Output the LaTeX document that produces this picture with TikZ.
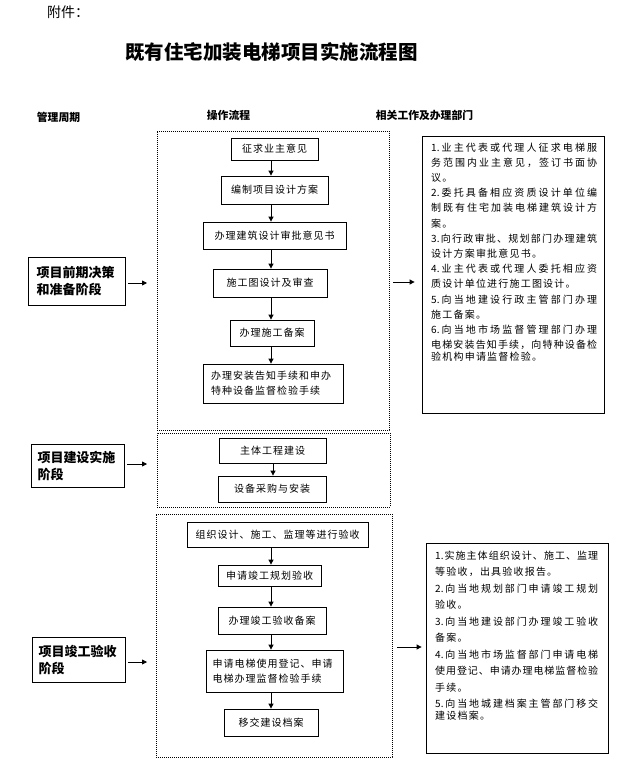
\documentclass[tikz,border=0pt]{standalone}
\usepackage{fontspec}
\usetikzlibrary{arrows.meta}
\setmainfont{Noto Sans CJK SC}
\newfontfamily\cjk{Noto Sans CJK SC}
\newfontfamily\cjkls[LetterSpace=10]{Noto Sans CJK SC}
\newfontfamily\cjkrl[LetterSpace=12]{Noto Sans CJK SC}
\newdimen\jw
\makeatletter
\def\jline#1{\leavevmode\hbox to \jw{\jl@a#1\@nil}}
\def\jl@a#1{#1\jl@b}
\def\jl@b#1{\ifx\@nil#1\else\hfil#1\expandafter\jl@b\fi}
\makeatother
\tikzset{
  frame/.style={draw, line width=0.8pt, dash pattern=on 0.8pt off 1.2pt, inner sep=0pt},
  pbox/.style={draw, line width=0.8pt, inner sep=2pt, font=\fontsize{10}{15}\selectfont\cjkls},
  lbox/.style={draw, line width=0.8pt, inner sep=2pt, text width=80pt, align=left, font=\fontsize{13}{17}\selectfont\cjk\bfseries},
  rbox/.style={draw, line width=0.8pt, inner sep=0pt},
  rtext/.style={inner sep=0pt, text width=172pt, align=left, anchor=base west},
  hdr/.style={font=\fontsize{10.8}{13}\selectfont\cjk\bfseries, inner sep=0pt},
  arr/.style={line width=0.8pt, -{Triangle[length=5pt,width=5pt]}}
}
\begin{document}
\begin{tikzpicture}[x=1pt,y=-1pt]
\useasboundingbox (0,0) rectangle (628,779);
% header texts
\node[anchor=west, inner sep=0pt, font=\fontsize{14}{16}\selectfont\cjk] (att) at (47,12) {附件：};
\node[inner sep=0pt, font=\fontsize{19.5}{22}\selectfont\cjk\bfseries] (title) at (271.5,52) {既有住宅加装电梯项目实施流程图};
\node[hdr] (h1) at (58.5,117) {管理周期};
\node[hdr] (h2) at (228.5,115) {操作流程};
\node[hdr] (h3) at (424.5,115) {相关工作及办理部门};

% dotted frames
\node[frame, minimum width=232pt, minimum height=299pt] (F1) at (273,280.5) {};
\node[frame, minimum width=233pt, minimum height=74pt] (F2) at (273.5,470) {};
\node[frame, minimum width=236pt, minimum height=243pt] (F3) at (274,635.5) {};

% left stage boxes
\node[lbox, minimum width=97pt, minimum height=48pt] (L1) at (76.5,281) {项目前期决策\\和准备阶段};
\node[lbox, minimum width=93pt, minimum height=43pt] (L2) at (77.5,465.5) {项目建设实施\\阶段};
\node[lbox, minimum width=93pt, minimum height=45pt] (L3) at (78.5,659.5) {项目竣工验收\\阶段};

% stage 1 steps
\node[pbox, minimum width=87pt, minimum height=22pt] (b1) at (274.5,149) {征求业主意见};
\node[pbox, minimum width=107pt, minimum height=28pt] (b2) at (274.5,190) {编制项目设计方案};
\node[pbox, minimum width=143pt, minimum height=27pt] (b3) at (274.5,235.5) {办理建筑设计审批意见书};
\node[pbox, minimum width=114pt, minimum height=28pt] (b4) at (270,283) {施工图设计及审查};
\node[pbox, minimum width=84pt, minimum height=26pt] (b5) at (272,333) {办理施工备案};
\node[pbox, minimum width=140pt, minimum height=39pt, text width=124pt, align=left] (b6) at (273,383.5) {办理安装告知手续和申办\\特种设备监督检验手续};

% stage 2 steps
\node[pbox, minimum width=107pt, minimum height=25pt] (c1) at (272.5,450.5) {主体工程建设};
\node[pbox, minimum width=108pt, minimum height=26pt] (c2) at (272,489) {设备采购与安装};

% stage 3 steps
\node[pbox, minimum width=181pt, minimum height=25pt] (d1) at (277.5,534.5) {组织设计、施工、监理等进行验收};
\node[pbox, minimum width=103pt, minimum height=21pt] (d2) at (269.5,575.5) {申请竣工规划验收};
\node[pbox, minimum width=108pt, minimum height=27pt] (d3) at (272,620.5) {办理竣工验收备案};
\node[pbox, minimum width=137pt, minimum height=42pt, text width=124pt, align=left] (d4) at (274.5,671) {申请电梯使用登记、申请\\电梯办理监督检验手续};
\node[pbox, minimum width=94pt, minimum height=27pt] (d5) at (271,722.5) {移交建设档案};

% right boxes
\node[rbox, minimum width=182pt, minimum height=277pt] (R1) at (513,274.5) {};
\node[rbox, minimum width=182pt, minimum height=210pt] (R2) at (517,648) {};

\node[rtext] (R1t) at (431,151) {\fontsize{10}{15.2}\selectfont\cjk\jw=166pt
\jline{{1.}业主代表或代理人征求电梯服}\\
\jline{务范围内业主意见，签订书面协}\\
{\cjkrl 议。}\\
\jline{{2.}委托具备相应资质设计单位编}\\
\jline{制既有住宅加装电梯建筑设计方}\\
{\cjkrl 案。}\\
\jline{{3.}向行政审批、规划部门办理建筑}\\
{\cjkrl 设计方案审批意见书。}\\
\jline{{4.}业主代表或代理人委托相应资}\\
{\cjkrl 质设计单位进行施工图设计。}\\
\jline{{5.}向当地建设行政主管部门办理}\\
{\cjkrl 施工备案。}\\
\jline{{6.}向当地市场监督管理部门办理}\\
\jline{电梯安装告知手续，向特种设备检}\\
{\cjkrl 验机构申请监督检验。}};

\node[rtext] (R2t) at (435,559) {\fontsize{10}{16.5}\selectfont\cjk\jw=163pt
\jline{{1.}实施主体组织设计、施工、监理}\\
{\cjkrl 等验收，出具验收报告。}\\
\jline{{2.}向当地规划部门申请竣工规划}\\
{\cjkrl 验收。}\\
\jline{{3.}向当地建设部门办理竣工验收}\\
{\cjkrl 备案。}\\
\jline{{4.}向当地市场监督部门申请电梯}\\
\jline{使用登记、申请办理电梯监督检验}\\
{\cjkrl 手续。}\\
\jline{{5.}向当地城建档案主管部门移交}\\
{\cjkrl 建设档案。}};

% vertical arrows
\coordinate (ax) at (271,0);
\coordinate (bx) at (273,0);
\draw[arr] (b1.south -| ax) -- (b2.north -| ax);
\draw[arr] (b2.south -| ax) -- (b3.north -| ax);
\draw[arr] (b3.south -| ax) -- (b4.north -| ax);
\draw[arr] (b4.south -| ax) -- (b5.north -| ax);
\draw[arr] (b5.south -| ax) -- (b6.north -| ax);
\draw[arr] (c1.south -| bx) -- (c2.north -| bx);
\draw[arr] (d1.south -| ax) -- (d2.north -| ax);
\draw[arr] (d2.south -| ax) -- (d3.north -| ax);
\draw[arr] (d3.south -| ax) -- (d4.north -| ax);
\draw[arr] (d4.south -| ax) -- (d5.north -| ax);

% horizontal arrows
\coordinate (l1e) at (147,283);
\coordinate (l2e) at (147,464);
\coordinate (l3e) at (147,662);
\draw[arr] ([xshift=3pt]L1.east |- l1e) -- (l1e);
\draw[arr] ([xshift=3pt]L2.east |- l2e) -- (l2e);
\draw[arr] ([xshift=3pt]L3.east |- l3e) -- (l3e);
\coordinate (r1s) at (393,282);
\coordinate (r2s) at (397,647);
\draw[arr, shorten >=7pt] (r1s) -- (R1.west |- r1s);
\draw[arr, shorten >=4pt] (r2s) -- (R2.west |- r2s);
\end{tikzpicture}
\end{document}
